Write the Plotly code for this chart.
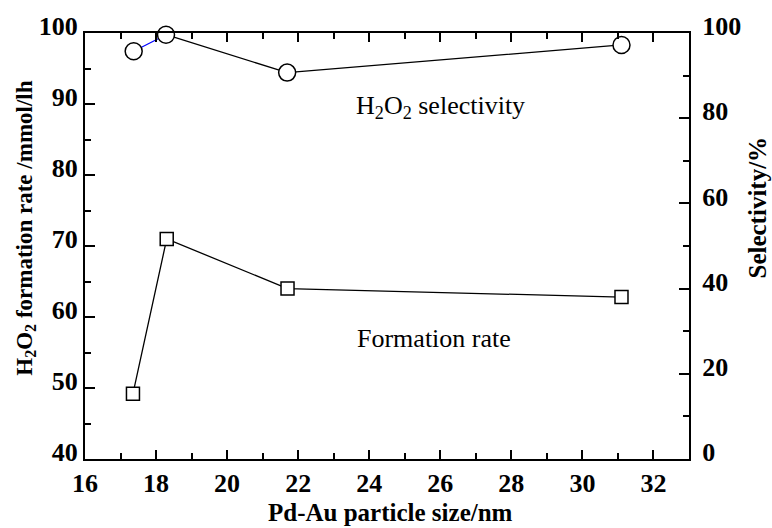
import plotly.graph_objects as go

# ---- data ----
size_rate = [17.35, 18.3, 21.7, 31.1]
formation_rate = [49.2, 71.0, 64.0, 62.8]

size_sel = [17.37, 18.28, 21.69, 31.1]
selectivity = [95.7, 99.6, 90.7, 97.2]

x_ticks = [16, 18, 20, 22, 24, 26, 28, 30, 32]
y_left_ticks = [40, 50, 60, 70, 80, 90, 100]
y_right_ticks = [0, 20, 40, 60, 80, 100]

FONT = "Liberation Serif, Times New Roman, serif"

fig = go.Figure()

# formation rate (left axis)
fig.add_trace(go.Scatter(
    x=size_rate, y=formation_rate, mode="lines+markers",
    line=dict(color="black", width=1.3),
    marker=dict(symbol="square", size=13, color="white",
                line=dict(color="black", width=1.5)),
    cliponaxis=False, showlegend=False, yaxis="y"))

# selectivity (right axis): first segment blue, rest black
fig.add_trace(go.Scatter(
    x=size_sel[:2], y=selectivity[:2], mode="lines",
    line=dict(color="blue", width=1.2), cliponaxis=False,
    showlegend=False, yaxis="y2"))
fig.add_trace(go.Scatter(
    x=size_sel[1:], y=selectivity[1:], mode="lines",
    line=dict(color="black", width=1.3), cliponaxis=False,
    showlegend=False, yaxis="y2"))
fig.add_trace(go.Scatter(
    x=size_sel, y=selectivity, mode="markers",
    marker=dict(symbol="circle", size=17, color="white",
                line=dict(color="black", width=1.5)),
    cliponaxis=False, showlegend=False, yaxis="y2"))

tickfont = dict(family=FONT, size=26, color="black", weight="bold")

fig.update_layout(
    width=772, height=528,
    margin=dict(l=85, r=83, t=21, b=69),
    paper_bgcolor="white", plot_bgcolor="white",
    font=dict(family=FONT, color="black"),
    xaxis=dict(
        range=[16, 33], tickvals=x_ticks, ticktext=[str(v) for v in x_ticks],
        ticks="inside", ticklen=9, tickwidth=2, tickcolor="black",
        minor=dict(ticks="inside", ticklen=6, tickwidth=2, dtick=1, tick0=16, tickcolor="black"),
        showline=True, linewidth=2, linecolor="black", mirror="ticks",
        showgrid=False, zeroline=False, tickfont=tickfont, ticklabelstandoff=0,
    ),
    yaxis=dict(
        range=[40, 100], tickvals=y_left_ticks, ticktext=[str(v) for v in y_left_ticks],
        ticks="inside", ticklen=10, tickwidth=2, tickcolor="black",
        minor=dict(ticks="inside", ticklen=6, tickwidth=2, dtick=5, tick0=40, tickcolor="black"),
        showline=True, linewidth=2, linecolor="black",
        showgrid=False, zeroline=False, tickfont=tickfont,
        ticklabelshift=-7, ticklabelstandoff=0,
    ),
    yaxis2=dict(
        range=[0, 100], tickvals=y_right_ticks, ticktext=[str(v) for v in y_right_ticks],
        overlaying="y", side="right",
        ticks="inside", ticklen=10, tickwidth=2, tickcolor="black",
        minor=dict(ticks="inside", ticklen=6, tickwidth=2, dtick=10, tick0=0, tickcolor="black"),
        showline=True, linewidth=2, linecolor="black",
        showgrid=False, zeroline=False, tickfont=tickfont,
        ticklabelshift=-7, ticklabelstandoff=6,
    ),
    annotations=[
        dict(text="<b>Pd-Au particle size/nm</b>", xref="paper", yref="paper",
             x=0.505, y=-0.125, showarrow=False, xanchor="center", yanchor="middle",
             font=dict(family=FONT, size=25, color="black")),
        dict(text="<b>H<sub>2</sub>O<sub>2</sub> formation rate /mmol/lh</b>", xref="paper", yref="paper",
             x=-0.099, y=0.541, showarrow=False, textangle=-90, xanchor="center", yanchor="middle",
             font=dict(family=FONT, size=23, color="black")),
        dict(text="<b>Selectivity/%</b>", xref="paper", yref="paper",
             x=1.114, y=0.59, showarrow=False, textangle=-90, xanchor="center", yanchor="middle",
             font=dict(family=FONT, size=25, color="black")),
        dict(text="H<sub>2</sub>O<sub>2</sub> selectivity", xref="paper", yref="paper",
             x=0.589, y=0.826, showarrow=False, xanchor="center", yanchor="middle",
             font=dict(family=FONT, size=26, color="black")),
        dict(text="Formation rate", xref="paper", yref="paper",
             x=0.578, y=0.283, showarrow=False, xanchor="center", yanchor="middle",
             font=dict(family=FONT, size=26, color="black")),
    ],
)

fig.write_html("out.html")
